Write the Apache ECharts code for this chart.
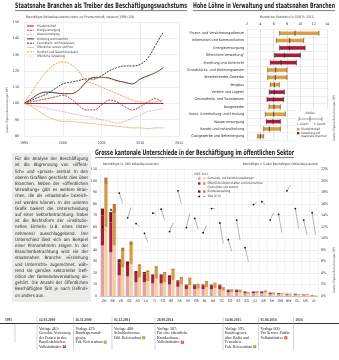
<!DOCTYPE html>
<html><head><meta charset="utf-8">
<script src="https://cdn.jsdelivr.net/npm/echarts@6/dist/echarts.min.js"></script>
<style>html,body{margin:0;padding:0;background:#fff}#c{width:339px;height:360px}</style>
</head><body><div id="c"></div>
<script>
// ---------- Panel 1 data ----------
const years = [1995,1996,1997,1998,1999,2000,2001,2002,2003,2004,2005,2006,2007,2008,2009,2010,2011,2012,2013];
const privat     = [100,100,100,100,100,100,100,100,100,100,100,100,100,100,100,100,100,100,100];
const energie    = [100,101,102,103,104,105,103,99,96,96,99,102,101,98,96,98,101,103,99];
const wasser     = [100,99,98,97,96,95,94,93,92,91,90,89,88,89,91,93,95,96,97];
const erziehung  = [100,103,106,107,106.5,106,106,108,113,116,116,115.5,114,113,112,115,117,119,122];
const gesundheit = [100,102,104,106,109,112,113,114,115,115,117,120,122,123,123,124,128,136,144];
const verkehrPost= [100,98,95,92,90,89,89,88.5,88,87.5,87,86.5,86,85.5,85,85,84.5,85,85];
const rundfunk   = [100,107,114,120,124,125.5,124,120,114,112,110,108,106,104,102,101,100.5,101,102];
const verwaltung = [100,101,102,103,104,105,106,108,112,115,116,115,113,112,110,113,116,119,121];
const p1Names = ['Privatwirtschaft','Energieversorgung','Wasserversorgung','Erziehung und Unterricht','Gesundheits- und Sozialwesen','Öffentlicher Verkehr und Post','Rundfunk und Telekommunikation','Öffentliche Verwaltung'];

// ---------- Panel 2 data ----------
const branchen = ['Finanz- und Versicherungsdienste','Information und Kommunikation','Energieversorgung','Öffentliche Verwaltung²','Erziehung und Unterricht','Grundstücks- und Wohnungswesen','Verarbeitendes Gewerbe','Bergbau','Verkehr und Lagerei','Gesundheits- und Sozialwesen','Baugewerbe','Kunst, Unterhaltung und Erholung','Wasserversorgung','Handel und Instandhaltung','Gastgewerbe und Beherbergung'];
const branchenStaat = [0,0,1,1,1,0,0,0,1,1,0,0,1,0,0];
const quartil1 = [6.9,6.4,6.9,6.15,5.5,5.1,5.1,5.5,5.35,5.0,5.3,4.75,4.9,4.5,3.6];
const medianLohn = [9.2,8.4,8.35,7.6,7.1,6.3,6.25,6.1,6.1,6.0,6.05,6.0,5.9,5.35,4.0];
const quartil3 = [12.8,10.5,10.7,10.0,9.4,8.0,8.0,6.85,7.6,7.5,7.0,7.75,7.0,7.0,4.5];

// ---------- Panel 3 data ----------
const kantone = ['ZH','BE','VD','GE','AG','LU','TI','SG','BS','FR','VS','GR','BL','NE','TG','SO','SZ','ZG','JU','AR','SH','OW','NW','GL','UR','AI'];
const gemKant1995 = [44,38,18,17,12,12,11,11,10,8,6,6,6,6,6,3.3,3.3,2.4,2.4,2.4,1.7,1.6,1.2,1.2,0.8,0.5];
const koerp1995   = [26,26,11,10,8,7.5,6.5,6.5,6.5,4.6,3.2,3.2,3.2,3.2,3.2,1.8,1.8,1.3,1.3,1.3,0.9,0.8,0.6,0.6,0.5,0.3];
const bund1995    = [6,9,3,3,1.7,1.4,1.3,1.3,1.5,1,0.7,0.8,0.8,0.7,0.7,0.4,0.4,0.3,0.3,0.3,0.3,0.2,0.2,0.2,0.1,0.1];
const gemKant2013 = [60,44,25,28,16,13,15,12,14,10,9.5,6.4,7.8,7,4.7,3.5,3.3,2.1,2.6,3,1.7,1.6,1.2,1,1,0.4];
const koerp2013   = [37,28,14,16,10,7.5,9,7.5,8.3,5.5,5.5,3.6,4.4,3.9,2.6,1.9,1.8,1.1,1.4,1.6,0.9,0.8,0.6,0.5,0.5,0.15];
const bund2013    = [6,8,3,3.5,1.5,1.8,1.8,1.4,1.5,1,1,0.7,0.8,0.7,0.5,0.4,0.4,0.3,0.3,0.3,0.3,0.2,0.2,0.2,0.2,0.05];
const total1995 = [12.0,15.0,17.9,13.6,12.6,10.9,14.4,15.1,11.2,18.3,11.9,13.5,11.0,15.2,12.7,9.8,13.2,8.4,15.9,16.4,13.2,14.2,18.3,15.2,13.2,14.5];
const total2013 = [11.4,14.5,16.1,15.4,12.1,9.4,14.4,13.2,12.7,16.1,14.4,11.6,12.3,15.2,9.1,7.8,9.7,6.0,16.3,15.9,14.5,11.0,19.3,11.7,10.6,10.6];

// ---------- Text ----------
const paragraph = [
'Für die Analyse der Beschäftigung','ist die Abgrenzung von «öffent-','lich» und «privat» zentral. In den','oberen Grafiken geschieht dies über','Branchen. Neben der «öffentlichen','Verwaltung» gibt es weitere Bran-','chen, die als «staatsnah» bezeich-','net werden können. In der unteren','Grafik basiert die Unterscheidung','auf einer Sektorbetrachtung. Dabei','ist die Rechtsform der «institutio-','nellen Einheit» (z.B. eines Unter-','nehmens) ausschlaggebend. Der','Unterschied lässt sich am Beispiel','einer Primarlehrerin zeigen. In der','Branchenbetrachtung wird sie der','staatsnahen Branche «Erziehung','und Unterricht» zugerechnet, wäh-','rend sie gemäss sektorieller Defi-','nition der Gemeindeverwaltung an-','gehört. Die Anzahl der öffentlichen','Beschäftigten fällt je nach Definiti-','on anders aus.'];
const tlDates = ['1995','12.03.2000','26.11.2000','02.12.2001','28.09.2014','14.06.2015','05.06.2016','2016'];
const tlTexts = [[],
 ['Vorlage 461:','Gerechte Vertretung','der Frauen in den','Bundesbehörden.','Volksinitiative'],
 ['Vorlage 473:','Bundespersonal-','gesetz.','Fak. Referendum'],
 ['Vorlage 480:','Schuldenbremse.','Obl. Referendum'],
 ['Vorlage 587:','Für eine öffentliche','Krankenkasse.','Volksinitiative'],
 ['Vorlage 595:','Bundesgesetz','über Radio und','Fernsehen.','Fak. Referendum'],
 ['Vorlage 600:','Pro Service Public.','Volksinitiative'],
 []];
const tlResult = [null,0,1,1,0,1,0,null];

// ---------- Layout ----------
const RED='#a3203a', ORANGE='#d9a04a', DARK='#3a3a3a';
const SANS='"DejaVu Sans Condensed","Liberation Sans",sans-serif';
const SERIF='"Liberation Serif",serif';
const cv=document.createElement('canvas').getContext('2d');
function mw(s,font){cv.font=font;return cv.measureText(s).width;}
function T(x,y,s,o){o=o||{};return {type:'text',x:x,y:y,rotation:o.rot||0,scaleX:o.sx||1,silent:true,z:o.z||10,
  style:{text:s,fontSize:o.fs||4,fontFamily:o.ff||SANS,fontWeight:o.fw||'normal',fill:o.fill||DARK,
  align:o.align||'left',verticalAlign:o.va||'middle',textAlign:o.align||'left',textVerticalAlign:o.va||'middle'}};}
function L(x1,y1,x2,y2,c,w,dash){return {type:'line',silent:true,z:9,shape:{x1:x1,y1:y1,x2:x2,y2:y2},style:{stroke:c||DARK,lineWidth:w||0.5,lineDash:dash||null}};}
function R(x,y,w,h,c,z){return {type:'rect',silent:true,z:z||9,shape:{x:x,y:y,width:w,height:h},style:{fill:c}};}

const g=[];
function title(x,y,s,target){const f='bold 7.5px '+SANS;const sx=target/mw(s,f);
  g.push(T(x,y,s,{fs:7.5,fw:'bold',fill:'#222',sx:sx}));g.push(L(x,y+4.6,x+target,y+4.6,'#222',0.6));}
title(15,6,'Staatsnahe Branchen als Treiber des Beschäftigungswachstums',172);
title(193,6,'Hohe Löhne in Verwaltung und staatsnahen Branchen',142);
title(95,153,'Grosse kantonale Unterschiede in der Beschäftigung im öffentlichen Sektor',199);
g.push(T(26,17,'Beschäftigte (Vollzeitäquivalente) relativ zur Privatwirtschaft, indexiert (1995=100)',{fs:3.4,sx:0.85}));
g.push(T(287,17,'Monatlicher Bruttolohn (in 1000 Fr., 2012)',{fs:3.4,align:'center',sx:0.85}));
g.push(T(103,164,'Beschäftigte (in 1000 Vollzeitäquivalenten)',{fs:3.4,sx:0.85}));
g.push(T(318,164,'Beschäftigte in % aller Beschäftigten (Vollzeitäquivalente)',{fs:3.4,align:'right',sx:0.85}));
g.push(T(7,110,'Quelle: Eigene Berechnungen BFS',{fs:3,rot:Math.PI/2,align:'center',fill:'#555'}));
g.push(T(334,118,'Quelle: Eigene Berechnungen BFS',{fs:3,rot:Math.PI/2,align:'center',fill:'#555'}));
g.push(T(334,270,'Quelle: Eigene Berechnungen BFS',{fs:3,rot:Math.PI/2,align:'center',fill:'#555'}));

// panel 1 legend
const p1Style=[
 {c:'#c0243c',t:'solid',w:1.1},{c:'#8e1b2e',t:[2,1],w:0.8},{c:'#c06070',t:[0.6,0.9],w:0.8},
 {c:'#111',t:'solid',w:0.8},{c:'#111',t:[2,1],w:0.8},{c:'#eab98a',t:'solid',w:0.9},
 {c:'#d88a2e',t:[2,1],w:0.8},{c:'#e8b070',t:[0.6,0.9],w:0.8}];
p1Names.forEach((n,i)=>{const y=26+i*4.3;
  g.push(L(27,y,34,y,p1Style[i].c,p1Style[i].w,p1Style[i].t==='solid'?null:p1Style[i].t));
  g.push(T(37,y,n,{fs:3.2,sx:0.85}));});

// panel 2 legend
g.push(R(296,109,32,32,'#fff',8));
g.push(T(310,113,'Median',{fs:3.2,align:'center',sx:0.85}));
g.push(L(299,119,322,119,DARK,0.5));g.push(L(299,117,299,121,DARK,0.5));g.push(L(322,117,322,121,DARK,0.5));g.push(L(310,116,310,122,DARK,0.5));
g.push(T(297,124,'1. Quartil',{fs:3.2,sx:0.85}));g.push(T(325,124,'3. Quartil',{fs:3.2,align:'right',sx:0.85}));
g.push(R(297,128,2.4,2.4,ORANGE));g.push(T(301,129.2,'Privatwirtschaft',{fs:3.2,sx:0.85}));
g.push(R(297,132,2.4,2.4,RED));g.push(T(301,133.2,'Verwaltung und',{fs:3.2,sx:0.85}));g.push(T(301,136.6,'staatsnahe Branchen',{fs:3.2,sx:0.85}));

// panel 3 legend
const c3=[['#e3a2a6','#f4cf9f'],['#a3203a','#d59a48'],['#7d1628','#b87d30']];
g.push(T(194,174,'1995  2013',{fs:3.2,sx:0.85}));
const l3=[['Gemeinde- und Kantonsverwaltungen'],['Öffentliche Körperschaften und Unternehmen','(Gemeinden und Kanton)'],['Bundesverwaltung']];
const l3y=[178.5,183.5,191.5];
l3.forEach((t,i)=>{g.push(R(198,l3y[i]-1.2,2.4,2.4,c3[i][0]));g.push(R(203,l3y[i]-1.2,2.4,2.4,c3[i][1]));
  t.forEach((s,j)=>g.push(T(207.5,l3y[i]+j*3.6,s,{fs:3.2,sx:0.85})));});
g.push({type:'circle',silent:true,z:9,shape:{cx:199.2,cy:196.5,r:0.9},style:{fill:'#111'}});
g.push({type:'circle',silent:true,z:9,shape:{cx:204.2,cy:196.5,r:0.5},style:{fill:'#111'}});
g.push(T(207.5,196.5,'Total (in %)',{fs:3.2,sx:0.85}));

// paragraph box (justified)
const PX=15,PY=159,PW=73;
g.push(R(PX-3,PY-6,PW+6,149,'#ececea',1));
const pf=4.5, pfont=pf+'px '+SANS;
let maxW=0;paragraph.forEach(l=>{maxW=Math.max(maxW,mw(l,pfont));});
const psx=Math.min(1,(PW*0.985)/maxW);
paragraph.forEach((line,i)=>{const y=PY+i*6.2;const words=line.split(' ');
  if(i===paragraph.length-1||words.length<2){g.push(T(PX,y,line,{fs:pf,fill:'#222',sx:psx}));return;}
  const ws=words.map(w=>mw(w,pfont)*psx);const sum=ws.reduce((a,b)=>a+b,0);const gap=(PW-sum)/(words.length-1);
  let x=PX;words.forEach((w,k)=>{g.push(T(x,y,w,{fs:pf,fill:'#222',sx:psx}));x+=ws[k]+gap;});});

// timeline
const tlX=[15,37,73.5,112,155,223,258.5,293.5];
g.push(L(0,323.5,339,323.5,'#333',1.2));
tlDates.forEach((d,i)=>{const x=tlX[i];
  if(i===0){g.push(T(5,320,d,{fs:3.6,ff:SERIF,fw:'bold'}));g.push(L(x,324,x,342,'#aaa',0.5));return;}
  g.push(L(x,317,x,350,'#aaa',0.5));
  g.push(T(x+2,320,d,{fs:3.6,ff:SERIF,fw:'bold'}));
  const lines=tlTexts[i];
  lines.forEach((s,j)=>{g.push(T(x+2,329+j*4.4,s,{fs:3.9,ff:SERIF,fill:'#222'}));});
  if(tlResult[i]!==null&&lines.length){const last=lines[lines.length-1];const lx=x+2+mw(last,'3.9px '+SERIF)+1.2;const ly=329+(lines.length-1)*4.4;
    g.push(R(lx,ly-1.5,3,3,tlResult[i]?'#7cb342':'#d32f2f'));
    g.push(T(lx+1.5,ly,tlResult[i]?'✓':'✗',{fs:2.8,fill:'#fff',align:'center',fw:'bold'}));}
});

// ---------- chart ----------
const chart=echarts.init(document.getElementById('c'),null,{renderer:'canvas',width:339,height:360});
const axLab={fontSize:3.6,color:'#333',fontFamily:SANS};
const plain=v=>String(v);
const p1Data=[privat,energie,wasser,erziehung,gesundheit,verkehrPost,rundfunk,verwaltung];
const series=[];
p1Data.forEach((arr,i)=>{series.push({type:'line',xAxisIndex:0,yAxisIndex:0,name:p1Names[i],smooth:0.4,symbol:'none',
  z:i===0?3:4,data:years.map((y,k)=>[y,arr[k]]),
  lineStyle:{color:p1Style[i].c,width:p1Style[i].w,type:p1Style[i].t}});});

series.push({type:'custom',xAxisIndex:1,yAxisIndex:1,
  data:branchen.map((b,i)=>[i,quartil1[i],medianLohn[i],quartil3[i],branchenStaat[i]]),
  encode:{x:[1,2,3],y:0},
  renderItem:function(params,api){const yi=api.value(0);const a=api.coord([api.value(1),yi]),m=api.coord([api.value(2),yi]),b=api.coord([api.value(3),yi]);
    const h=3.6;const col=api.value(4)?RED:ORANGE;const dk=api.value(4)?'#5c0f1e':'#7a5418';
    return {type:'group',children:[
      {type:'rect',shape:{x:a[0],y:a[1]-h/2,width:b[0]-a[0],height:h},style:{fill:col}},
      {type:'line',shape:{x1:a[0],y1:a[1]-h/2-0.8,x2:a[0],y2:a[1]+h/2+0.8},style:{stroke:dk,lineWidth:0.7}},
      {type:'line',shape:{x1:b[0],y1:b[1]-h/2-0.8,x2:b[0],y2:b[1]+h/2+0.8},style:{stroke:dk,lineWidth:0.7}},
      {type:'line',shape:{x1:m[0],y1:m[1]-h/2-0.8,x2:m[0],y2:m[1]+h/2+0.8},style:{stroke:'#222',lineWidth:0.7}}]};}});

const parts=[[gemKant1995,koerp1995,bund1995],[gemKant2013,koerp2013,bund2013]];
['1995','2013'].forEach((yr,s)=>{parts[s].forEach((arr,k)=>{series.push({type:'bar',xAxisIndex:2,yAxisIndex:2,stack:yr,
  barWidth:3.2,barGap:'8%',data:arr,itemStyle:{color:c3[k][s]},silent:true});});});
series.push({type:'custom',xAxisIndex:2,yAxisIndex:3,z:10,
  data:kantone.map((k,i)=>[i,total1995[i],total2013[i]]),encode:{x:0,y:[1,2]},
  renderItem:function(params,api){const i=api.value(0);const bw=api.size([1,0])[0];
    const a=api.coord([i,api.value(1)]),b=api.coord([i,api.value(2)]);const ax=a[0]-bw*0.2,bx=b[0]+bw*0.2;
    return {type:'group',children:[
      {type:'line',shape:{x1:ax,y1:a[1],x2:bx,y2:b[1]},style:{stroke:'#444',lineWidth:0.4}},
      {type:'circle',shape:{cx:ax,cy:a[1],r:0.9},style:{fill:'#111'}}]};}});

chart.setOption({animation:false,
 grid:[{left:24,top:22,width:155,height:114},{left:247,top:29.5,width:80,height:110.5},{left:100,top:169.5,width:218,height:126.5}],
 xAxis:[
  {gridIndex:0,type:'value',min:1995,max:2015,interval:5,axisLine:{show:false},axisTick:{show:false},axisLabel:Object.assign({margin:5,formatter:plain},axLab),splitLine:{lineStyle:{color:'#ddd',width:0.5}}},
  {gridIndex:1,type:'value',min:2,max:14,interval:2,position:'top',axisLine:{show:false},axisTick:{show:false},axisLabel:Object.assign({margin:3,formatter:plain},axLab),splitLine:{lineStyle:{color:'#ccc',width:0.5}}},
  {gridIndex:2,type:'category',data:kantone,axisLine:{lineStyle:{color:'#999',width:0.5}},axisTick:{show:false},axisLabel:Object.assign({margin:3,interval:0},axLab),splitLine:{show:true,lineStyle:{color:'#e6e6e6',width:0.5}}}],
 yAxis:[
  {gridIndex:0,type:'value',min:80,max:150,interval:10,axisLine:{show:false},axisTick:{show:false},axisLabel:Object.assign({margin:5,formatter:plain},axLab),splitLine:{lineStyle:{color:'#ddd',width:0.5}}},
  {gridIndex:1,type:'category',data:branchen,inverse:true,axisLine:{show:false},axisTick:{show:false},axisLabel:Object.assign({margin:3,interval:0},axLab),splitLine:{show:true,interval:0,lineStyle:{color:'#ddd',width:0.5}}},
  {gridIndex:2,type:'value',min:0,max:110,interval:10,axisLine:{show:false},axisTick:{show:false},axisLabel:Object.assign({margin:3,formatter:plain},axLab),splitLine:{lineStyle:{color:'#ddd',width:0.5}}},
  {gridIndex:2,type:'value',position:'right',min:0,max:22,interval:2,axisLine:{show:false},axisTick:{show:false},axisLabel:Object.assign({margin:3,formatter:'{value}%'},axLab),splitLine:{show:false}}],
 series:series,
 graphic:{elements:g}});
</script></body></html>
